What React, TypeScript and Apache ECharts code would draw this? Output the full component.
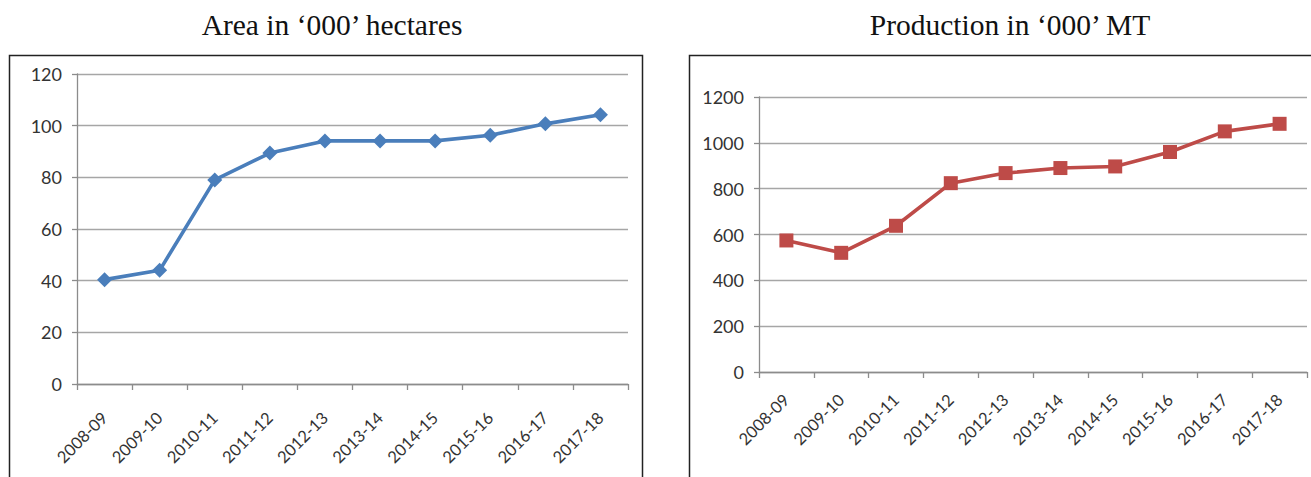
import React, { useEffect, useRef } from "react";
import * as echarts from "echarts";

const years = ["2008-09", "2009-10", "2010-11", "2011-12", "2012-13", "2013-14", "2014-15", "2015-16", "2016-17", "2017-18"];
const areaValues = [40.4, 44.0, 79.0, 89.4, 94.1, 94.1, 94.1, 96.3, 100.7, 104.2];
const productionValues = [574, 520, 638, 824, 868, 890, 897, 960, 1050, 1083];
const areaTitle = "Area in \u2018000\u2019 hectares";
const productionTitle = "Production in \u2018000\u2019 MT";

const labelFont = "Lato, 'Open Sans', sans-serif";
const labelColor = "#333333";
const gridColor = "#a6a6a6";
const axisColor = "#8c8c8c";
const titleFont = "'Liberation Serif', 'DejaVu Serif', serif";

function axisPair(gridIndex: number, max: number, interval: number, xMargin: number) {
  const x = {
    type: "category" as const,
    gridIndex,
    data: years,
    boundaryGap: true,
    axisLine: { show: true, lineStyle: { color: axisColor, width: 1.3 } },
    axisTick: { show: true, length: 6, lineStyle: { color: axisColor, width: 1.3 } },
    axisLabel: {
      rotate: 45,
      margin: xMargin,
      fontSize: 16.5,
      fontFamily: labelFont,
      color: labelColor,
      interval: 0,
    },
    splitLine: { show: false },
  };
  const y = {
    type: "value" as const,
    gridIndex,
    min: 0,
    max,
    interval,
    axisLine: { show: true, lineStyle: { color: axisColor, width: 1.3 } },
    axisTick: { show: true, length: 5, lineStyle: { color: axisColor, width: 1.3 } },
    axisLabel: {
      margin: 15,
      fontSize: 18,
      fontFamily: labelFont,
      color: labelColor,
      formatter: (v: number) => String(v),
    },
    splitLine: { show: true, lineStyle: { color: gridColor, width: 1.3 } },
  };
  return { x, y };
}

export default function App() {
  const ref = useRef<HTMLDivElement>(null);

  useEffect(() => {
    if (!ref.current) return;
    const chart = echarts.init(ref.current, null, { renderer: "svg" });
    const a = axisPair(0, 120, 20, 31);
    const p = axisPair(1, 1200, 200, 25);
    chart.setOption({
      animation: false,
      backgroundColor: "#ffffff",
      title: [
        {
          text: areaTitle,
          left: 327,
          top: 5,
          textAlign: "center",
          textStyle: { fontFamily: titleFont, fontSize: 29.5, fontWeight: "normal", color: "#111" },
        },
        {
          text: productionTitle,
          left: 1005,
          top: 5,
          textAlign: "center",
          textStyle: { fontFamily: titleFont, fontSize: 29.5, fontWeight: "normal", color: "#111" },
        },
      ],
      graphic: [
        {
          type: "rect",
          shape: { x: 9.5, y: 55.5, width: 633, height: 440 },
          style: { fill: "none", stroke: "#222", lineWidth: 1.5 },
          silent: true,
        },
        {
          type: "rect",
          shape: { x: 689.5, y: 55.5, width: 660, height: 440 },
          style: { fill: "none", stroke: "#222", lineWidth: 1.5 },
          silent: true,
        },
      ],
      grid: [
        { left: 77, right: 683, top: 74, bottom: 93, containLabel: false },
        { left: 759, right: 4, top: 97, bottom: 105, containLabel: false },
      ],
      xAxis: [a.x, p.x],
      yAxis: [a.y, p.y],
      series: [
        {
          type: "line",
          xAxisIndex: 0,
          yAxisIndex: 0,
          data: areaValues,
          symbol: "diamond",
          symbolSize: 15,
          lineStyle: { color: "#4a7ebb", width: 3.6 },
          itemStyle: { color: "#4a7ebb" },
        },
        {
          type: "line",
          xAxisIndex: 1,
          yAxisIndex: 1,
          data: productionValues,
          symbol: "rect",
          symbolSize: 14,
          lineStyle: { color: "#be4b48", width: 3.6 },
          itemStyle: { color: "#be4b48" },
        },
      ],
    });
    return () => chart.dispose();
  }, []);

  return (
    <div
      ref={ref}
      style={{ position: "fixed", left: 0, top: 0, width: 1311, height: 477, background: "#fff" }}
    />
  );
}
